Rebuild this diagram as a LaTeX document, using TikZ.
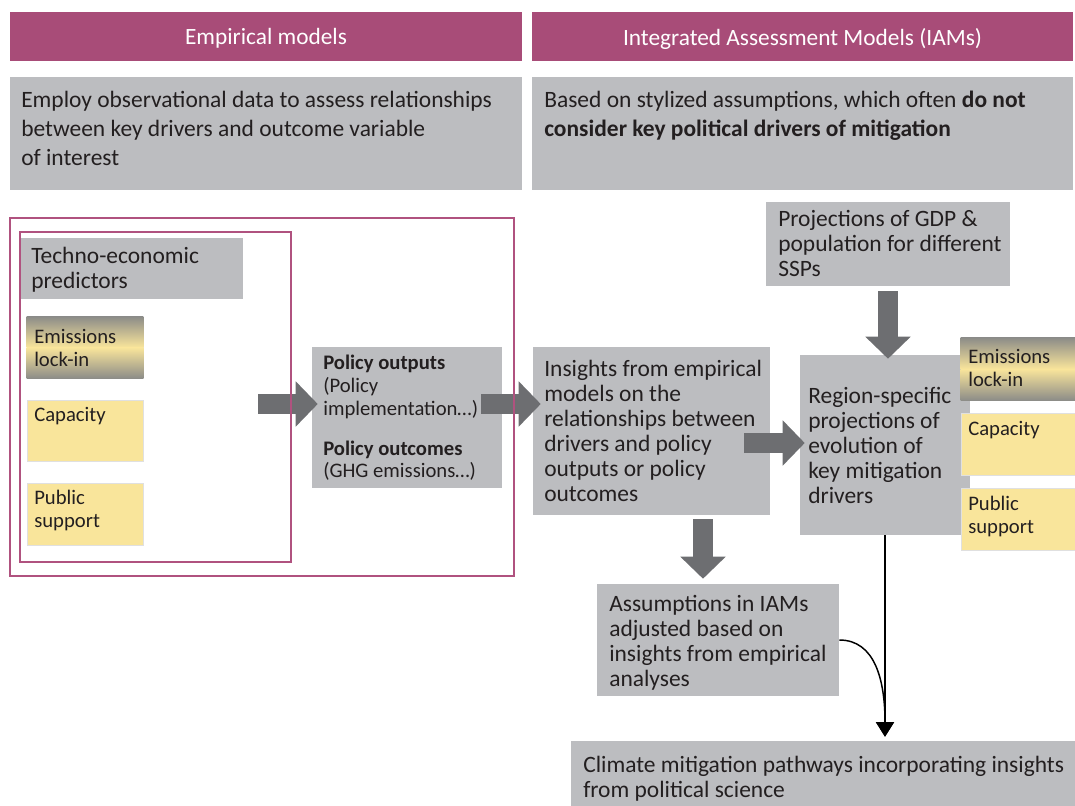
\documentclass[tikz,border=0pt]{standalone}
\usepackage{fontspec}
\setmainfont{Carlito}
\usetikzlibrary{arrows.meta,fit,calc}

\definecolor{headc}{HTML}{A84C78}
\definecolor{greyc}{HTML}{BCBDC0}
\definecolor{arrowc}{HTML}{6D6E71}
\definecolor{yelc}{HTML}{F9E59B}
\definecolor{lockc}{HTML}{8C8C88}
\definecolor{framec}{HTML}{B0527F}
\definecolor{txtc}{HTML}{231F20}

\tikzset{
  box/.style={fill=greyc, inner sep=0pt},
  head/.style={fill=headc, inner sep=0pt},
  yelbox/.style={fill=yelc, draw=black!12, line width=0.6pt, inner sep=0pt},
  lockbox/.style={draw=black!12, line width=0.6pt, inner sep=0pt},
  frame/.style={draw=framec, line width=1.5pt, inner sep=0pt},
  headtxt/.style={text=white, yshift=-1.5pt, font=\fontsize{17.5}{20}\selectfont},
  bigtxt/.style={anchor=north west, align=left, text=txtc, yshift=-1.5pt, font=\fontsize{17.6}{21.75}\selectfont},
  txt/.style={anchor=north west, align=left, text=txtc, yshift=-2.25pt, font=\fontsize{17.6}{18.75}\selectfont},
  smtxt/.style={anchor=north west, align=left, text=txtc, yshift=-2.25pt, font=\fontsize{15.5}{17}\selectfont},
  bigarrow/.style={draw=arrowc, line width=15pt, -{Triangle[length=16.5pt,width=33pt]}},
  thinarrow/.style={draw=black, line width=1.1pt, -{Triangle[length=11pt,width=13.5pt]}}
}

% grey-yellow-grey fill of a lock-in box
\newcommand{\lockfill}[1]{%
  \shade[top color=lockc, bottom color=yelc] (#1.north west) rectangle (#1.east);
  \shade[top color=yelc, bottom color=lockc] (#1.west) rectangle (#1.south east);
}

\begin{document}
\begin{tikzpicture}[x=0.75pt,y=-0.75pt,inner sep=0pt]

\useasboundingbox (0,0) rectangle (1075,806);

% headers
\node[head, fit={(10,12) (522,61)}] (hl) {};
\node[headtxt] () at (hl.center) {Empirical models};
\node[head, fit={(532,12) (1073,61)}] (hr) {};
\node[headtxt] () at (hr.center) {Integrated Assessment Models (IAMs)};

% descriptions
\node[box, fit={(10,77) (522,190)}] (dl) {};
\node[bigtxt] () at (21,89) {Employ observational data to assess relationships\\between key drivers and outcome variable\\of interest};
\node[box, fit={(532,77) (1073,190)}] (dr) {};
\node[bigtxt] () at (544,89) {Based on stylized assumptions, which often \textbf{do not}\\\textbf{consider key political drivers of mitigation}};

% empirical side
\node[box, fit={(21,238) (243,299)}] (tech) {};
\node[txt] () at (31,244) {Techno-economic\\predictors};

\node[lockbox, fit={(27,317) (143,378)}] (lockl) {};
\lockfill{lockl}
\node[smtxt] () at (34,326) {Emissions\\lock-in};
\node[yelbox, fit={(27,400) (143,461)}] (capl) {};
\node[smtxt] () at (34,404) {Capacity};
\node[yelbox, fit={(27,483) (143,545)}] (publ) {};
\node[smtxt] () at (34,487) {Public\\support};

\node[box, fit={(312,347) (502,488)}] (pol) {};
\node[smtxt] () at (323,352) {\textbf{Policy outputs}\\(Policy\\implementation…)\\[13pt]\textbf{Policy outcomes}\\(GHG emissions…)};

% IAM side
\node[box, fit={(533,347) (770,515)}] (ins) {};
\node[txt] () at (544,357) {Insights from empirical\\models on the\\relationships between\\drivers and policy\\outputs or policy\\outcomes};

\node[box, fit={(766,202) (1010,286)}] (proj) {};
\node[txt] () at (778,207) {Projections of GDP \&\\population for different\\SSPs};

\node[box, fit={(800,355) (970,535)}] (reg) {};
\node[txt] () at (808,384) {Region-specific\\projections of\\evolution of\\key mitigation\\drivers};

\node[lockbox, fit={(961,338) (1076,400)}] (lockr) {};
\lockfill{lockr}
\node[smtxt] () at (968,346) {Emissions\\lock-in};
\node[yelbox, fit={(961,413) (1076,475)}] (capr) {};
\node[smtxt] () at (968,418) {Capacity};
\node[yelbox, fit={(961,488) (1076,550)}] (pubr) {};
\node[smtxt] () at (968,493) {Public\\support};

\node[box, fit={(597,584) (839,696)}] (ass) {};
\node[txt] () at (609,592) {Assumptions in IAMs\\adjusted based on\\insights from empirical\\analyses};

\node[box, fit={(571,741) (1075,806)}] (clim) {};
\node[txt] () at (583,753) {Climate mitigation pathways incorporating insights\\from political science};

% block arrows
\coordinate (a1) at (258,404);
\draw[bigarrow] (a1) -- ([xshift=4.5pt]a1 -| pol.west);
\coordinate (a2) at (481,404);
\draw[bigarrow] (a2) -- ([xshift=6pt]a2 -| ins.west);
\coordinate (a3) at (744,443);
\draw[bigarrow] (a3) -- ([xshift=3.75pt]a3 -| reg.west);
\coordinate (a5) at (703,519);
\draw[bigarrow] (a5) -- ([yshift=3.75pt]a5 |- ass.north);
\coordinate (a6) at (888,291);
\draw[bigarrow] (a6) -- ([yshift=-3pt]a6 |- reg.north);

% frames
\node[frame, fit={(10,218) (514,576)}] (outer) {};
\node[frame, fit={(20,232) (291,562)}] (inner) {};

% thin connectors
\coordinate (tip) at ([yshift=3pt]reg.south |- clim.north);
\draw[thinarrow] (reg.south) -- (tip);
\draw[thinarrow] (ass.east) .. controls (875,640) and (885,680) .. (tip);

\end{tikzpicture}
\end{document}
